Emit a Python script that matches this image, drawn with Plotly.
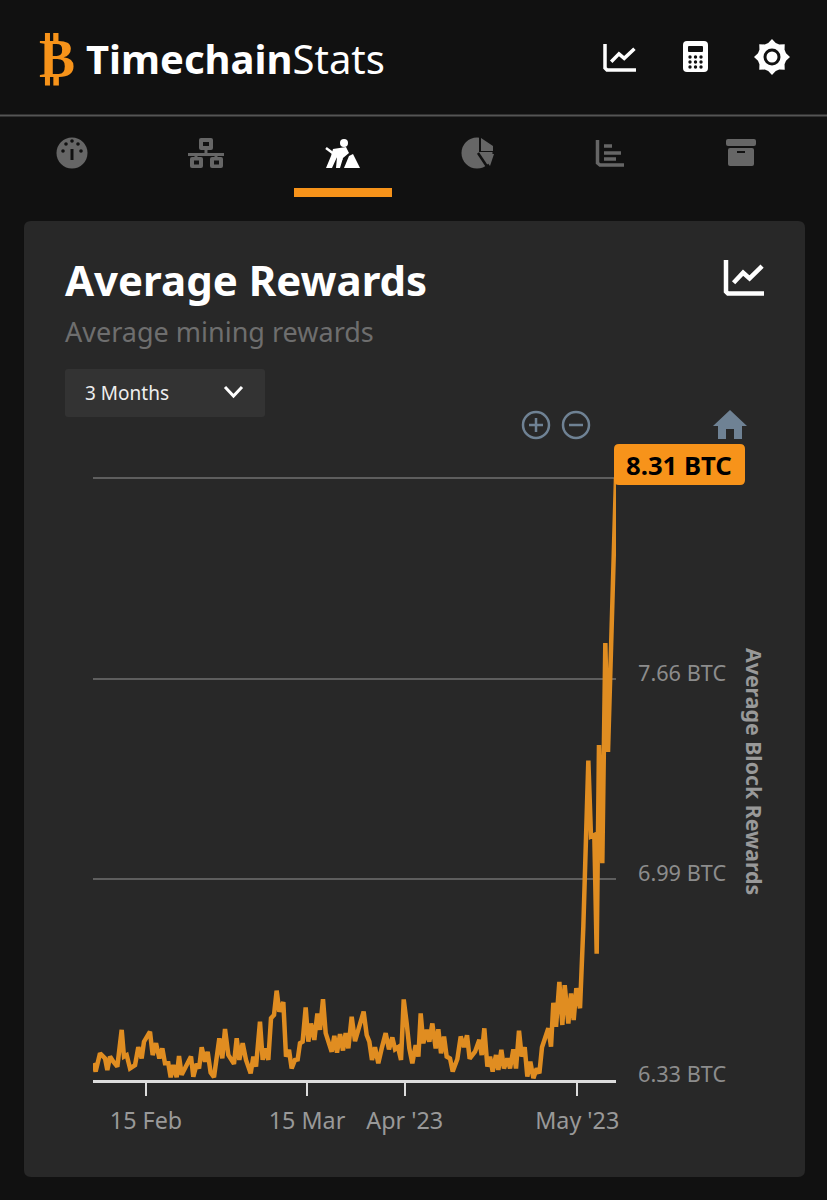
import numpy as np
import pandas as pd
import plotly.graph_objects as go

W, H = 827, 1200

# days since 1 Feb 2023
day_offsets = [
    4.8, 5.24, 6.0, 6.87, 7.27, 7.74, 8.32, 9.01, 9.77, 10.17, 10.64, 11.22, 12.09, 12.66, 13.24,
    13.65, 14.69, 15.16, 15.74, 16.32, 16.84, 17.3, 17.88, 18.29, 18.75, 19.33, 19.74, 20.2, 21.82,
    22.23, 22.81, 23.22, 23.68, 24.26, 24.72, 25.24, 25.82, 26.75, 27.27, 27.74, 28.32, 29.3, 29.77,
    30.23, 30.81, 31.39, 32.2, 32.67, 33.13, 33.82, 34.29, 34.69, 35.27, 35.74, 36.26, 36.72, 37.19,
    37.88, 38.35, 38.87, 39.33, 39.91, 40.38, 40.78, 41.24, 41.77, 42.23, 42.69, 43.27, 43.8, 44.26,
    44.78, 45.25, 46.29, 46.75, 47.22, 47.74, 48.26, 48.72, 49.19, 49.77, 50.35, 51.85, 52.38, 52.84,
    53.3, 53.82, 54.4, 54.99, 55.68, 56.26, 56.84, 57.31, 57.83, 58.35, 58.82, 59.34, 59.8, 60.32,
    60.9, 61.37, 61.77, 62.23, 62.82, 63.28, 63.8, 64.38, 64.84, 65.31, 65.83, 66.29, 66.87, 67.34,
    68.15, 68.73, 69.31, 69.83, 70.29, 71.22, 71.97, 72.38, 72.84, 73.37, 73.83, 74.29, 74.87, 75.28,
    75.8, 76.26, 76.84, 77.31, 77.89, 78.35, 78.87, 79.34, 79.86, 80.32, 80.84, 81.37, 81.95, 82.41,
    82.87, 83.97, 84.44, 84.84, 85.31, 85.89, 86.41, 86.82, 87.45, 87.92, 88.38, 88.84, 89.48, 90.06,
    90.46, 90.93, 91.39, 91.97, 92.38, 92.78, 93.36, 93.88, 94.35, 95.74,
]
avg_rewards = [
    6.385, 6.358, 6.418, 6.401, 6.363, 6.407, 6.390, 6.374, 6.495, 6.407, 6.412, 6.368, 6.379, 6.438, 6.401,
    6.456, 6.489, 6.412, 6.451, 6.401, 6.434, 6.385, 6.385, 6.339, 6.379, 6.339, 6.409, 6.347, 6.407,
    6.341, 6.383, 6.368, 6.438, 6.390, 6.423, 6.354, 6.339, 6.467, 6.401, 6.498, 6.412, 6.383, 6.467,
    6.396, 6.451, 6.396, 6.352, 6.407, 6.374, 6.522, 6.396, 6.434, 6.396, 6.533, 6.544, 6.624, 6.555,
    6.586, 6.407, 6.429, 6.368, 6.396, 6.398, 6.451, 6.456, 6.569, 6.456, 6.516, 6.462, 6.549, 6.495,
    6.596, 6.484, 6.423, 6.475, 6.420, 6.481, 6.427, 6.484, 6.434, 6.538, 6.458, 6.555, 6.478, 6.456,
    6.396, 6.438, 6.385, 6.434, 6.484, 6.431, 6.470, 6.431, 6.438, 6.396, 6.595, 6.516, 6.434, 6.385,
    6.445, 6.407, 6.549, 6.451, 6.495, 6.456, 6.516, 6.434, 6.497, 6.418, 6.473, 6.407, 6.401, 6.358,
    6.399, 6.473, 6.438, 6.477, 6.400, 6.423, 6.462, 6.412, 6.500, 6.374, 6.407, 6.358, 6.412, 6.363,
    6.429, 6.368, 6.401, 6.368, 6.431, 6.368, 6.492, 6.407, 6.438, 6.341, 6.390, 6.336, 6.368, 6.352,
    6.438, 6.500, 6.440, 6.584, 6.505, 6.653, 6.511, 6.642, 6.516, 6.615, 6.527, 6.632, 6.566, 6.835,
    7.131, 7.381, 7.131, 7.136, 6.745, 7.432, 7.043, 7.767, 7.409, 8.31,
]
x_ticks = ["2023-02-15", "2023-03-15", "2023-04-01", "2023-05-01"]
x_tick_labels = ["15 Feb", "15 Mar", "Apr '23", "May '23"]
y_ticks = [6.33, 6.99, 7.65, 8.31]
y_tick_labels = ["6.33 BTC", "6.99 BTC", "7.66 BTC"]

ORANGE = "#F7931A"
LINE = "#E08D21"
CARD = "#282828"
BG = "#111111"
GREY = "#666666"
SLATE = "#6F8294"
FONT = "Noto Sans"

dates = pd.Timestamp("2023-02-01") + pd.to_timedelta(day_offsets, unit="D")


def fx(x):
    return x / W


def fy(y):
    return 1 - y / H


def poly(points, close=True):
    s = "M " + " L ".join(f"{fx(x):.5f} {fy(y):.5f}" for x, y in points)
    return s + (" Z" if close else "")


def rrect(x0, y0, x1, y1, r):
    s = "M %.5f %.5f L %.5f %.5f" % (fx(x0 + r), fy(y0), fx(x1 - r), fy(y0))
    s += " Q %.5f %.5f %.5f %.5f" % (fx(x1), fy(y0), fx(x1), fy(y0 + r))
    s += " L %.5f %.5f" % (fx(x1), fy(y1 - r))
    s += " Q %.5f %.5f %.5f %.5f" % (fx(x1), fy(y1), fx(x1 - r), fy(y1))
    s += " L %.5f %.5f" % (fx(x0 + r), fy(y1))
    s += " Q %.5f %.5f %.5f %.5f" % (fx(x0), fy(y1), fx(x0), fy(y1 - r))
    s += " L %.5f %.5f" % (fx(x0), fy(y0 + r))
    s += " Q %.5f %.5f %.5f %.5f Z" % (fx(x0), fy(y0), fx(x0 + r), fy(y0))
    return s


shapes = []


def fill(path, color, layer="below"):
    shapes.append(dict(type="path", path=path, xref="paper", yref="paper",
                       fillcolor=color, line=dict(width=0), layer=layer))


def stroke(path, color, width, layer="below"):
    shapes.append(dict(type="path", path=path, xref="paper", yref="paper",
                       line=dict(color=color, width=width), layer=layer))


def circle(cx, cy, r, color=None, line_color=None, width=0):
    shapes.append(dict(type="circle", xref="paper", yref="paper",
                       x0=fx(cx - r), x1=fx(cx + r), y0=fy(cy + r), y1=fy(cy - r),
                       fillcolor=color if color else "rgba(0,0,0,0)",
                       line=dict(color=line_color if line_color else "rgba(0,0,0,0)", width=width),
                       layer="below"))


def chart_icon(x0, y0, x1, y1, width):
    # axes plus zigzag
    w, h = x1 - x0, y1 - y0
    stroke(poly([(x0, y0), (x0, y1 - 2), (x0 + 2, y1), (x1, y1)], close=False), "white", width)
    stroke(poly([(x0 + w * .2, y0 + h * .68), (x0 + w * .45, y0 + h * .38),
                 (x0 + w * .62, y0 + h * .55), (x0 + w * .95, y0 + h * .18)], close=False), "white", width)


# card and header
fill(rrect(24, 221, 805, 1177, 7), CARD)
stroke(poly([(0, 115.5), (827, 115.5)], close=False), "#555555", 2)
fill(poly([(294, 188), (392, 188), (392, 197), (294, 197)]), ORANGE)

# header icons
chart_icon(605, 44, 636, 70, 3.5)
fill(rrect(683, 41, 708, 72, 4), "white")
fill(rrect(688, 46, 703, 52, 1), BG)
for gx in (690, 695.5, 701):
    for gy in (57, 62, 67):
        circle(gx, gy, 1.7, BG)
ang = np.arange(24) * np.pi / 12
sun = [(772 + (18 if i % 3 == 0 else 14.5) * np.sin(a), 57 - (18 if i % 3 == 0 else 14.5) * np.cos(a))
       for i, a in enumerate(ang)]
fill(poly(sun), "white")
circle(772, 57, 8.5, BG)
circle(772, 57, 5.5, "white")

# tab icons
circle(72, 153, 15.5, GREY)
for cx, cy in [(63, 151), (81, 151), (66, 144), (78, 144), (72, 141)]:
    circle(cx, cy, 1.8, BG)
stroke(poly([(72, 149), (72, 160)], close=False), BG, 3)
fill(rrect(199, 138, 213, 150, 2), GREY)
fill(rrect(203, 142, 209, 146, 0), BG)
stroke(poly([(206, 150), (206, 154)], close=False), GREY, 3)
stroke(poly([(188, 154.5), (224, 154.5)], close=False), GREY, 3)
stroke(poly([(196, 154), (196, 158)], close=False), GREY, 3)
stroke(poly([(216, 154), (216, 158)], close=False), GREY, 3)
for bx in (190, 210):
    fill(rrect(bx, 157, bx + 13, 168, 2), GREY)
    fill(rrect(bx + 4, 160.5, bx + 9, 164.5, 0), BG)
circle(344, 143, 4, "white")
fill(poly([(333, 149), (346, 147), (349, 153), (343, 158), (340, 168), (336, 168), (337, 157),
           (332, 168), (326, 168), (331, 156)]), "white")
stroke(poly([(326, 148), (342, 160)], close=False), "white", 2.5)
fill(poly([(344, 168), (349, 156), (353, 154), (360, 168)]), "white")
circle(477, 153, 15.5, GREY)
fill(poly([(479, 136), (495, 136), (495, 152), (479, 152)]), BG)
fill(poly([(481, 138), (493, 146), (493, 151), (481, 151)]), GREY)
fill(poly([(481, 154), (494, 154), (490, 166)]), GREY)
stroke(poly([(478, 153), (488, 168)], close=False), BG, 2.5)
stroke(poly([(597.5, 140), (597.5, 163), (600, 165), (624, 165)], close=False), GREY, 3.5)
for bx0, bx1, by in [(604, 612, 146), (604, 621, 153), (604, 616, 159)]:
    stroke(poly([(bx0, by), (bx1, by)], close=False), GREY, 3.5)
fill(rrect(726, 139, 756, 146, 2), GREY)
fill(rrect(728, 148, 754, 166, 2), GREY)
stroke(poly([(737, 152), (745, 152)], close=False), BG, 2)

# card chart icon
chart_icon(726, 260, 764, 293.5, 4.5)

# range dropdown
fill(rrect(65, 369, 265, 417, 3), "#333333")
stroke(poly([(225, 387), (233.5, 396), (242, 387)], close=False), "white", 3)

# zoom controls
for cx in (536, 576):
    circle(cx, 425, 13, None, SLATE, 2.5)
    stroke(poly([(cx - 7, 425), (cx + 7, 425)], close=False), SLATE, 2.5)
stroke(poly([(536, 418), (536, 432)], close=False), SLATE, 2.5)
fill(poly([(730, 410), (747, 426), (742, 426), (742, 439), (734, 439), (734, 429), (726, 429),
           (726, 439), (718, 439), (718, 426), (713, 426)]), SLATE)

# last value tag
fill(rrect(614, 444, 745, 485, 5), ORANGE, layer="above")

annotations = []


def label(x, y, text, size, color, anchor="left", angle=0, family=FONT):
    annotations.append(dict(x=fx(x), y=fy(y), xref="paper", yref="paper", text=text, showarrow=False,
                            xanchor=anchor, yanchor="middle", textangle=angle,
                            font=dict(family=family, size=size, color=color)))


label(57.5, 58, "<b>₿</b>", 54, ORANGE, anchor="center", family="DejaVu Sans")
label(84, 58, "<b>Timechain</b>Stats", 40, "white", family="Noto Sans")
label(63, 279, "<b>Average Rewards</b>", 42, "white")
label(63, 332, "Average mining rewards", 27, "#6E6E6E")
label(83, 393, "3 Months", 19, "#EEEEEE")
label(679, 466, "<b>8.31 BTC</b>", 25.7, "black", anchor="center")
label(755, 771, "<b>Average Block Rewards</b>", 21.3, "#999999", anchor="center", angle=90)

# y labels sit just above their gridlines
for val, txt in zip(y_ticks, y_tick_labels):
    annotations.append(dict(x=fx(636), xref="paper", y=val, yref="y", text=txt, showarrow=False,
                            xanchor="left", yanchor="middle", yshift=6.5,
                            font=dict(family=FONT, size=21.7, color="#8C8C8C")))

fig = go.Figure(go.Scatter(
    x=dates,
    y=avg_rewards,
    mode="lines",
    line=dict(color=LINE, width=4.5),
    hoverinfo="skip",
))

range_start = pd.Timestamp("2023-02-01") + pd.Timedelta(days=4.78)
range_end = pd.Timestamp("2023-02-01") + pd.Timedelta(days=95.74)

# a little headroom so the top gridline still gets drawn
fig.update_layout(
    width=W,
    height=H,
    margin=dict(l=0, r=0, t=0, b=0, autoexpand=False),
    paper_bgcolor=BG,
    plot_bgcolor="rgba(0,0,0,0)",
    showlegend=False,
    shapes=shapes,
    annotations=annotations,
    xaxis=dict(
        domain=[fx(93), fx(616)],
        range=[range_start, range_end],
        type="date",
        tickmode="array",
        tickvals=x_ticks,
        ticktext=x_tick_labels,
        ticks="outside",
        ticklen=13,
        tickwidth=2,
        tickcolor="#DDDDDD",
        ticklabelstandoff=5,
        showline=True,
        linecolor="#DDDDDD",
        linewidth=3,
        showgrid=False,
        zeroline=False,
        tickangle=0,
        tickfont=dict(family=FONT, size=23.3, color="#999999"),
    ),
    yaxis=dict(
        domain=[fy(1080), fy(475)],
        range=[6.33, 8.32],
        tickmode="array",
        tickvals=y_ticks,
        showticklabels=False,
        ticks="",
        gridcolor="#5E5E5E",
        gridwidth=2,
        showline=False,
        zeroline=False,
    ),
)

fig.write_html("out.html", config=dict(displayModeBar=False),
               post_script="document.body.style.margin='0';")
